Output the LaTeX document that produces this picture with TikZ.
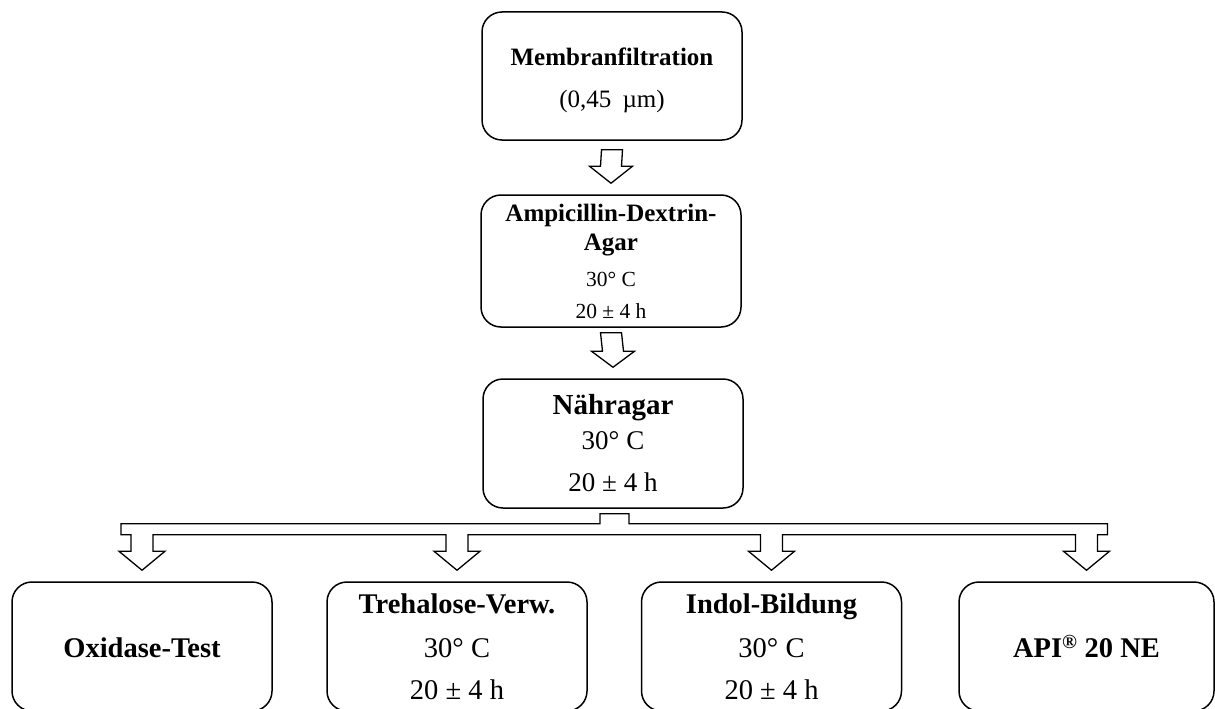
\documentclass[tikz,border=0pt]{standalone}
\usepackage{fontspec}
\setmainfont{Liberation Serif}
\usetikzlibrary{calc}

% font helpers: size in pt (one pt is one pixel of the page)
\newcommand\rmsz[1]{\fontsize{#1pt}{#1pt}\selectfont}
\newcommand\bfsz[1]{\fontsize{#1pt}{#1pt}\selectfont\bfseries}

\tikzset{
  stagebox/.style={draw=black, line width=1.5pt, rounded corners=20pt,
    inner sep=0pt, minimum width=260pt, fill=white},
  lbl/.style={anchor=base, inner sep=0pt},
  blockarrow/.style={draw=black, line width=1.3pt, fill=white, line join=miter},
}

\begin{document}
\begin{tikzpicture}[x=1pt, y=-1pt]
\useasboundingbox (0,0) rectangle (1215,709);
\clip (0,0) rectangle (1215,709);

% stage boxes
\node[stagebox, minimum height=128pt] (mf)  at (612,76) {};
\node[stagebox, minimum height=132pt] (ada) at (611,261) {};
\node[stagebox, minimum height=129pt] (nae) at (613,443.5) {};
\node[stagebox, minimum height=129pt] (oxi) at (142,646.5) {};
\node[stagebox, minimum height=129pt] (tre) at (457,646.5) {};
\node[stagebox, minimum height=129pt] (ind) at (771.5,646.5) {};
\node[stagebox, minimum height=129pt, minimum width=255pt] (api) at (1086.5,646.5) {};

% labels
\node[lbl, font=\bfsz{25}] (mf-1) at ($(mf)+(0,-10)$) {Membranfiltration};
\node[lbl, font=\rmsz{25}] (mf-2) at ($(mf)+(0,31)$) {(0,45\hspace{0.45em}µm)};

\node[lbl, font=\bfsz{25}] (ada-1) at ($(ada)+(0,-40)$) {Ampicillin-Dextrin-};
\node[lbl, font=\bfsz{25}] (ada-2) at ($(ada)+(0,-11)$) {Agar};
\node[lbl, font=\rmsz{21.5}] (ada-3) at ($(ada)+(0,25)$) {30° C};
\node[lbl, font=\rmsz{21.5}] (ada-4) at ($(ada)+(0,57)$) {20 ± 4 h};

\node[lbl, font=\bfsz{29}] (nae-1) at ($(nae)+(0,-29)$) {Nähragar};
\node[lbl, font=\rmsz{27}] (nae-2) at ($(nae)+(0,5.5)$) {30° C};
\node[lbl, font=\rmsz{27}] (nae-3) at ($(nae)+(0,47.5)$) {20 ± 4 h};

\node[lbl, font=\bfsz{28.5}] (oxi-1) at ($(oxi)+(0,11)$) {Oxidase-Test};

\node[lbl, font=\bfsz{28.5}] (tre-1) at ($(tre)+(0,-33)$) {Trehalose-Verw.};
\node[lbl, font=\rmsz{28.5}] (tre-2) at ($(tre)+(0,11)$) {30° C};
\node[lbl, font=\rmsz{28.5}] (tre-3) at ($(tre)+(0,53)$) {20 ± 4 h};

\node[lbl, font=\bfsz{28.5}] (ind-1) at ($(ind)+(0,-33)$) {Indol-Bildung};
\node[lbl, font=\rmsz{28.5}] (ind-2) at ($(ind)+(0,11)$) {30° C};
\node[lbl, font=\rmsz{28.5}] (ind-3) at ($(ind)+(0,53)$) {20 ± 4 h};

\node[lbl, font=\bfsz{28.5}] (api-1) at ($(api)+(0,11)$) {API\textsuperscript{®} 20 NE};

% block arrows between the upper stages
\draw[blockarrow]
  ($(mf.south)+(-10.5,9)$) -- ($(mf.south)+(10.5,9)$)
  -- ($(ada.north)+(10.5,-28)$) -- ($(ada.north)+(21.5,-28)$)
  -- ($(ada.north)+(0,-11)$)
  -- ($(ada.north)+(-21.5,-28)$) -- ($(ada.north)+(-10.5,-28)$) -- cycle;

\draw[blockarrow]
  ($(ada.south)+(-10.5,5)$) -- ($(ada.south)+(10.5,5)$)
  -- ($(nae.north)+(10.5,-27)$) -- ($(nae.north)+(21.5,-27)$)
  -- ($(nae.north)+(0,-11)$)
  -- ($(nae.north)+(-21.5,-27)$) -- ($(nae.north)+(-10.5,-27)$) -- cycle;

% branching block arrow to the four tests
\coordinate (bartop) at ($(nae.south)+(0,15)$);
\coordinate (barbot) at ($(nae.south)+(0,26)$);
\coordinate (t1) at ($(oxi.north)+(0,-11)$);
\coordinate (t2) at ($(tre.north)+(0,-11)$);
\coordinate (t3) at ($(ind.north)+(0,-11)$);
\coordinate (t4) at ($(api.north)+(0,-11)$);

\draw[blockarrow]
  ($(nae.south)+(-13,5)$) -- ($(nae.south)+(16,5)$) -- ($(nae.south)+(16,15)$)
  -- ($(t4 |- bartop)+(21,0)$) -- ($(t4 |- barbot)+(21,0)$)
  -- ($(t4 |- barbot)+(11,0)$) -- ($(t4)+(11,-19)$) -- ($(t4)+(23,-19)$) -- (t4)
  -- ($(t4)+(-23,-19)$) -- ($(t4)+(-11,-19)$) -- ($(t4 |- barbot)+(-11,0)$)
  -- ($(t3 |- barbot)+(11,0)$) -- ($(t3)+(11,-19)$) -- ($(t3)+(23,-19)$) -- (t3)
  -- ($(t3)+(-23,-19)$) -- ($(t3)+(-11,-19)$) -- ($(t3 |- barbot)+(-11,0)$)
  -- ($(t2 |- barbot)+(11,0)$) -- ($(t2)+(11,-19)$) -- ($(t2)+(23,-19)$) -- (t2)
  -- ($(t2)+(-23,-19)$) -- ($(t2)+(-11,-19)$) -- ($(t2 |- barbot)+(-11,0)$)
  -- ($(t1 |- barbot)+(11,0)$) -- ($(t1)+(11,-19)$) -- ($(t1)+(23,-19)$) -- (t1)
  -- ($(t1)+(-23,-19)$) -- ($(t1)+(-11,-19)$) -- ($(t1 |- barbot)+(-11,0)$)
  -- ($(t1 |- barbot)+(-21,0)$) -- ($(t1 |- bartop)+(-21,0)$)
  -- ($(nae.south)+(-13,15)$) -- cycle;
\end{tikzpicture}
\end{document}
